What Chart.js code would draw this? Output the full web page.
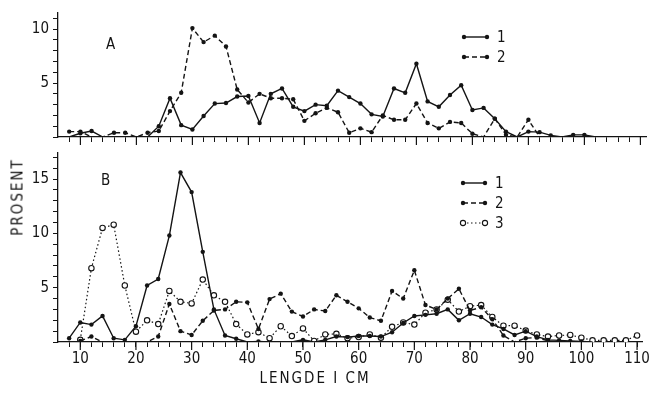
<!DOCTYPE html>
<html>
<head>
<meta charset="utf-8">
<script src="https://cdn.jsdelivr.net/npm/chart.js@4.4.1/dist/chart.umd.min.js"></script>
<style>
  body { margin: 0; background: #fff; }
  #wrap { position: relative; width: 653px; height: 394px; overflow: hidden;
          font-family: 'Liberation Sans Narrow', 'DejaVu Sans Condensed', 'Liberation Sans', sans-serif; color: #141414; }
  canvas { position: absolute; left: 0; }
  .txt { position: absolute; font-size: 15px; line-height: 1; white-space: nowrap; }
</style>
</head>
<body>
<div id="wrap">
  <canvas id="chartA" width="653" height="150" style="top:0;width:653px;height:150px"></canvas>
  <canvas id="chartB" width="653" height="254" style="top:140px;width:653px;height:254px"></canvas>
  <div class="txt" style="left:106px;top:37px">A</div>
  <div class="txt" style="left:101px;top:173px">B</div>
  <div class="txt" style="left:497px;top:30px">1</div>
  <div class="txt" style="left:497px;top:50px">2</div>
  <div class="txt" style="left:495px;top:176px">1</div>
  <div class="txt" style="left:495px;top:196px">2</div>
  <div class="txt" style="left:495px;top:216px">3</div>
  <div class="txt" style="left:18px;top:197px;font-size:15px;letter-spacing:2px;transform:translate(-50%,-50%) rotate(-90deg)">PROSENT</div>
  <div class="txt" style="left:315px;top:378px;letter-spacing:2px;transform:translate(-50%,-50%)">LENGDE I CM</div>
</div>
<script>
// lengths (cm), every 2 cm
const lengths = [8, 10, 12, 14, 16, 18, 20, 22, 24, 26, 28, 30, 32, 34, 36, 38, 40, 42, 44, 46, 48, 50,
  52, 54, 56, 58, 60, 62, 64, 66, 68, 70, 72, 74, 76, 78, 80, 82, 84, 86, 88, 90, 92, 94, 96, 98, 100,
  102, 104, 106, 108, 110];

// panel A (percent)
const pctA1 = [0, 0.35, 0.55, 0, 0, 0, 0, 0, 1.0, 3.6, 1.1, 0.7, 1.95, 3.1, 3.15, 3.75, 3.8, 1.3, 4.0, 4.5, 2.8, 2.4,
  3.0, 2.9, 4.3, 3.7, 3.1, 2.1, 1.9, 4.5, 4.1, 6.8, 3.3, 2.8, 3.9, 4.8, 2.5, 2.7, 1.7, 0.5, 0, 0.5,
  0.45, 0.15, 0, 0.2, 0.2, 0, null, null, null, null];
const pctA2 = [0.5, 0.5, 0, 0, 0.4, 0.4, 0, 0.4, 0.55, 2.4, 4.1, 10.1, 8.8, 9.4, 8.4, 4.4, 3.2, 4.0, 3.6, 3.6, 3.5, 1.5,
  2.2, 2.7, 2.3, 0.4, 0.8, 0.45, 2.0, 1.6, 1.6, 3.1, 1.3, 0.8, 1.4, 1.3, 0.3, 0, 1.7, 0.2, 0, 1.6,
  0, null, null, null, null, null, null, null, null, null];

// panel B (percent)
const pctB1 = [0.35, 1.8, 1.6, 2.4, 0.35, 0.2, 1.45, 5.2, 5.8, 9.8, 15.6, 13.8, 8.3, 3.0, 0.6, 0.3, 0, 0.05, 0, 0, 0, 0.2,
  0, 0.2, 0.5, 0.45, 0.55, 0.55, 0.5, 0.9, 1.75, 2.4, 2.5, 2.6, 3.0, 2.0, 2.6, 2.3, 1.6, 1.2, 0.65, 1.0,
  0.5, 0.2, 0.15, 0.1, 0.05, 0, null, null, null, null];
const pctB2 = [null, 0.1, 0.5, 0, 0, 0, 0, 0, 0.5, 3.5, 1.0, 0.65, 1.95, 2.9, 3.0, 3.7, 3.65, 1.2, 3.95, 4.45, 2.8, 2.35,
  3.0, 2.85, 4.3, 3.7, 3.1, 2.25, 1.95, 4.7, 4.0, 6.6, 3.4, 3.0, 4.0, 4.9, 2.9, 3.2, 2.1, 0.6, 0, 0.35,
  0.4, 0.1, 0, null, null, null, null, null, null, null];
const pctB3 = [null, 0.2, 6.8, 10.5, 10.8, 5.2, 0.95, 2.0, 1.65, 4.7, 3.7, 3.55, 5.75, 4.3, 3.7, 1.65, 0.7, 0.9, 0.35, 1.45, 0.55, 1.25,
  0.1, 0.7, 0.75, 0.35, 0.45, 0.7, 0.4, 1.4, 1.8, 1.6, 2.7, 3.0, 3.9, 2.8, 3.3, 3.4, 2.3, 1.5, 1.5, 1.05,
  0.7, 0.5, 0.6, 0.65, 0.4, 0.15, 0.15, 0.15, 0.15, 0.6];

const xLabels = [10, 20, 30, 40, 50, 60, 70, 80, 90, 100, 110];
const yLabelsA = [5, 10];
const yLabelsB = [5, 10, 15];

const ink = '#141414';
Chart.defaults.font.family = "'Liberation Sans Narrow', 'DejaVu Sans Condensed', 'Liberation Sans', sans-serif";
Chart.defaults.color = ink;

const toPoints = vals => lengths.map((x, i) => ({ x: x, y: vals[i] }));
const dotRadius = r => ctx => (ctx.raw && ctx.raw.y > 0 ? r : 0);

function series(vals, kind) {
  const ds = {
    data: toPoints(vals),
    borderColor: ink,
    borderWidth: 1.4,
    tension: 0,
    fill: false,
    pointBorderColor: ink,
    pointBackgroundColor: ink,
    pointBorderWidth: 0,
    pointRadius: dotRadius(2.2),
    kind: kind
  };
  if (kind === 'dash') ds.borderDash = [5, 3];
  if (kind === 'dot') {
    ds.borderDash = [1.5, 2.5];
    ds.borderWidth = 1.2;
    ds.pointBackgroundColor = '#fff';
    ds.pointBorderWidth = 1.1;
    ds.pointRadius = dotRadius(2.7);
  }
  return ds;
}

// longer ticks at every 10 cm
const majorTicks = {
  id: 'majorTicks',
  afterDraw(chart) {
    const { ctx, chartArea } = chart;
    const x = chart.scales.x;
    ctx.save();
    ctx.strokeStyle = ink;
    ctx.lineWidth = 1.2;
    xLabels.forEach(v => {
      const px = x.getPixelForValue(v);
      ctx.beginPath();
      ctx.moveTo(px, chartArea.bottom);
      ctx.lineTo(px, chartArea.bottom + 8);
      ctx.stroke();
    });
    ctx.restore();
  }
};

// legend line samples (labels are html text)
const legendSamples = {
  id: 'legendSamples',
  afterDraw(chart, args, opts) {
    const ctx = chart.ctx;
    chart.data.datasets.forEach((ds, i) => {
      const y = opts.y0 + i * opts.dy;
      const open = ds.kind === 'dot';
      ctx.save();
      ctx.strokeStyle = ink;
      ctx.lineWidth = ds.borderWidth;
      ctx.setLineDash(ds.borderDash || []);
      ctx.beginPath();
      ctx.moveTo(opts.x0, y);
      ctx.lineTo(opts.x1, y);
      ctx.stroke();
      ctx.setLineDash([]);
      [opts.x0, opts.x1].forEach(px => {
        ctx.beginPath();
        ctx.arc(px, y, open ? 2.6 : 2.2, 0, Math.PI * 2);
        ctx.fillStyle = open ? '#fff' : ink;
        ctx.fill();
        if (open) { ctx.lineWidth = 1.1; ctx.stroke(); }
      });
      ctx.restore();
    });
  }
};

function makeOptions(ymax, yLabels, showX, padTop, xHeight, legendPos) {
  const axisGrid = { drawOnChartArea: false, drawTicks: true, tickLength: 5, color: ink, lineWidth: 1 };
  return {
    responsive: false,
    animation: false,
    layout: { padding: { top: padTop, right: 7, left: 0, bottom: 0 } },
    plugins: { legend: { display: false }, tooltip: { enabled: false }, legendSamples: legendPos },
    scales: {
      x: {
        type: 'linear', min: 6, max: 111,
        border: { color: ink, width: 1.3 },
        grid: axisGrid,
        afterBuildTicks: s => { s.ticks = lengths.map(v => ({ value: v })); },
        ticks: {
          autoSkip: false, maxRotation: 0, padding: 3, font: { size: 15 },
          callback: v => (showX && xLabels.includes(v) ? String(v) : '')
        },
        afterFit: s => { s.height = xHeight; }
      },
      y: {
        min: 0, max: ymax,
        border: { color: ink, width: 1.3 },
        grid: axisGrid,
        afterBuildTicks: s => {
          const t = [];
          for (let v = 0; v <= Math.floor(ymax); v++) t.push({ value: v });
          s.ticks = t;
        },
        ticks: {
          autoSkip: false, padding: 4, font: { size: 15 },
          callback: v => (yLabels.includes(v) ? String(v) : '')
        },
        afterFit: s => { s.width = 58; }
      }
    }
  };
}

new Chart(document.getElementById('chartA'), {
  type: 'line',
  data: { datasets: [series(pctA1, 'solid'), series(pctA2, 'dash')] },
  options: makeOptions(11.5, yLabelsA, false, 10, 11, { x0: 464, x1: 487, y0: 37, dy: 20 }),
  plugins: [majorTicks, legendSamples]
});

new Chart(document.getElementById('chartB'), {
  type: 'line',
  data: { datasets: [series(pctB1, 'solid'), series(pctB2, 'dash'), series(pctB3, 'dot')] },
  options: makeOptions(17.4, yLabelsB, true, 5, 52, { x0: 463, x1: 485, y0: 43, dy: 20 }),
  plugins: [majorTicks, legendSamples]
});
</script>
</body>
</html>
